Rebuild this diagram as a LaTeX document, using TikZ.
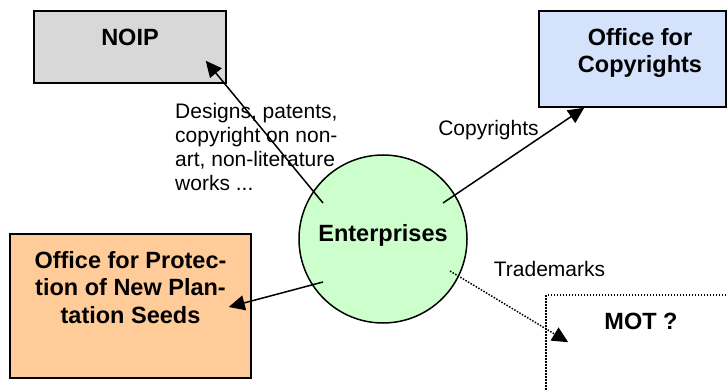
\documentclass[tikz,border=0pt]{standalone}
\usepackage{fontspec}
\setmainfont{Liberation Sans}
\usetikzlibrary{arrows.meta,calc}
\definecolor{noipgray}{HTML}{D8D8D8}
\definecolor{copyblue}{HTML}{D5E2FB}
\definecolor{seedorange}{HTML}{FFCC99}
\definecolor{entgreen}{HTML}{CCFFCC}
% box text: [left shift]{height}{width}{lines}
\newcommand{\boxtext}[4][0pt]{\parbox[c][#2][t]{#3}{\centering\leftskip=#1 plus 1fil
  \bfseries\fontsize{23.5}{27.5}\selectfont\rule{0pt}{34.4pt}#4}}
\begin{document}
\begin{tikzpicture}[x=1pt,y=-1pt,
  box/.style={draw,line width=1.5pt,inner sep=0pt},
  arr/.style={line width=1.5pt,-{Triangle[length=16pt,width=15pt]}},
  lbl/.style={inner sep=0pt,font=\fontsize{21}{24}\selectfont}]
  \clip (0,0) rectangle (727,390);
  \node[box,fill=noipgray] (noip) at (130,47) {\boxtext{72pt}{192pt}{NOIP}};
  \node[box,fill=copyblue] (copyoff) at (632.5,59) {\boxtext[15pt]{96pt}{187pt}{Office for\\Copyrights}};
  \node[box,fill=seedorange] (seedoff) at (130.5,306) {\boxtext{144pt}{241pt}{Office for Protec-\\tion of New Plan-\\tation Seeds}};
  \node[box,dash pattern=on 1.5pt off 1.5pt] (mot) at (641,367.5) {\boxtext{145pt}{190pt}{MOT ?}};
  \node[draw,circle,line width=1.5pt,fill=entgreen,minimum size=168pt,inner sep=0pt,text depth=12pt,
    font=\bfseries\fontsize{23.5}{27.5}\selectfont] (ent) at (383,239) {Enterprises};
  % labels
  \node[lbl,anchor=north west,align=left] (dlbl) at (175,103) {Designs, patents,\\copyright on non-\\art, non-literature\\works ...};
  \node[lbl,anchor=base] (clbl) at (488.5,135.5) {Copyrights};
  \node[lbl,anchor=base] (tlbl) at (549.5,276) {Trademarks};
  % arrows
  \draw[arr] ($(ent)+(-60,-36)$) -- ($(noip.south east)+(-21,-23)$);
  \draw[arr] ($(ent)+(60,-36)$) -- ($(copyoff.south west)+(46,0)$);
  \draw[arr] ($(ent)+(-60,43)$) -- ($(seedoff.east)+(-23,1)$);
  \draw[arr,dash pattern=on 1.5pt off 1.5pt] ($(ent)+(67,32)$) -- ($(mot.north west)+(23,48)$);
\end{tikzpicture}
\end{document}
